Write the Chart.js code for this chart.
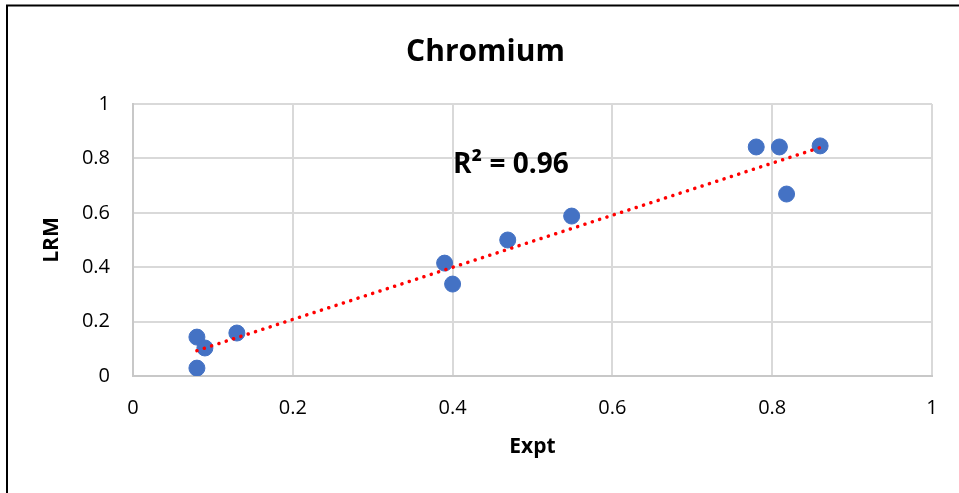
<!DOCTYPE html>
<html>
<head>
<meta charset="utf-8">
<script src="https://cdn.jsdelivr.net/npm/chart.js@4"></script>
<style>
  body { margin: 0; background: #fff; }
  #wrap { width: 959px; height: 493px; }
</style>
</head>
<body>
<div id="wrap"><canvas id="chart" width="959" height="493"></canvas></div>
<script>
// values
var expt = [0.08, 0.09, 0.08, 0.13, 0.39, 0.40, 0.469, 0.549, 0.78, 0.809, 0.818, 0.86];
var lrm  = [0.143, 0.103, 0.029, 0.158, 0.415, 0.338, 0.50, 0.588, 0.842, 0.842, 0.669, 0.846];
var trendX = [0.08, 0.86];
var trendY = [0.093, 0.840];
var rSquaredLabel = 'R² = 0.96';
var labelAt = [0.473, 0.776];

var points = expt.map(function (x, i) { return { x: x, y: lrm[i] }; });
var trend = trendX.map(function (x, i) { return { x: x, y: trendY[i] }; });

function tickText(v) { return String(Number(v.toFixed(1))); }

// frame line on the left and top, plus the R² text
var extras = {
    id: 'extras',
    afterDraw: function (chart) {
        var c = chart.ctx;
        c.save();
        c.strokeStyle = '#000';
        c.lineWidth = 2;
        c.beginPath();
        c.moveTo(7, 493);
        c.lineTo(7, 5.5);
        c.lineTo(959, 5.5);
        c.stroke();
        c.fillStyle = '#000';
        c.font = 'bold 28px "Open Sans"';
        c.textAlign = 'center';
        c.textBaseline = 'middle';
        c.fillText(rSquaredLabel,
            chart.scales.x.getPixelForValue(labelAt[0]),
            chart.scales.y.getPixelForValue(labelAt[1]));
        c.restore();
    }
};

var ctx = document.getElementById('chart').getContext('2d');
var myChart = new Chart(ctx, {
    type: 'scatter',
    data: {
        datasets: [{
            data: points,
            backgroundColor: '#4472C4',
            borderColor: '#4472C4',
            pointRadius: 8,
            pointHoverRadius: 8,
            order: 1
        }, {
            type: 'line',
            data: trend,
            borderColor: '#ff0000',
            borderWidth: 3.5,
            borderDash: [0.1, 7.6],
            borderCapStyle: 'round',
            pointRadius: 0,
            fill: false,
            order: 0
        }]
    },
    options: {
        responsive: false,
        animation: false,
        layout: { padding: { left: 39, right: 27, top: 0, bottom: 0 } },
        plugins: {
            legend: { display: false },
            tooltip: { enabled: false },
            title: {
                display: true,
                text: 'Chromium',
                color: '#000',
                font: { family: 'Open Sans', size: 30, weight: 'bold' },
                padding: { top: 34, bottom: 34 }
            }
        },
        scales: {
            x: {
                type: 'linear',
                min: 0,
                max: 1,
                ticks: {
                    stepSize: 0.2,
                    color: '#000',
                    padding: 20,
                    font: { family: 'Open Sans', size: 20 },
                    callback: tickText
                },
                grid: { color: '#d9d9d9', lineWidth: 2, drawTicks: false },
                border: { color: '#c8c8c8', width: 2 },
                title: {
                    display: true,
                    text: 'Expt',
                    color: '#000',
                    font: { family: 'Open Sans', size: 21, weight: 'bold' },
                    padding: { top: 0, bottom: 33 }
                },
                afterFit: function (s) { s.height = 117; }
            },
            y: {
                type: 'linear',
                min: 0,
                max: 1,
                ticks: {
                    stepSize: 0.2,
                    color: '#000',
                    padding: 23,
                    font: { family: 'Open Sans', size: 20 },
                    callback: tickText
                },
                grid: { color: '#d9d9d9', lineWidth: 2, drawTicks: false },
                border: { color: '#c8c8c8', width: 2 },
                title: {
                    display: true,
                    text: 'LRM',
                    color: '#000',
                    font: { family: 'Open Sans', size: 21, weight: 'bold' },
                    padding: 0
                },
                afterFit: function (s) { s.width = 94; }
            }
        }
    },
    plugins: [extras]
});
</script>
</body>
</html>
